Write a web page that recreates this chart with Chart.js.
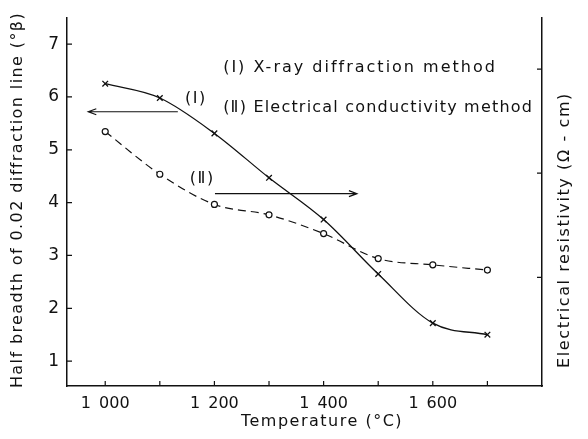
<!DOCTYPE html>
<html>
<head>
<meta charset="utf-8">
<script src="https://cdn.jsdelivr.net/npm/chart.js@4.4.1/dist/chart.umd.min.js"></script>
<style>
  html, body { margin: 0; padding: 0; background: #fff; }
  #wrap { width: 588px; height: 439px; }
</style>
</head>
<body>
<div id="wrap"><canvas id="chart" width="588" height="439"></canvas></div>
<script>
// Temperature (°C) of each measurement
const temperatures = [1000, 1100, 1200, 1300, 1400, 1500, 1600, 1700];
// (I) X-ray diffraction method, half breadth (left axis)
const xrayBreadth = [6.25, 5.98, 5.31, 4.47, 3.68, 2.65, 1.72, 1.50];
// (II) Electrical conductivity method, resistivity (right axis, unlabeled units)
const resistivity = [2.40, 1.99, 1.70, 1.60, 1.42, 1.18, 1.12, 1.07];

const xTickValues = [1000, 1100, 1200, 1300, 1400, 1500, 1600, 1700];
const xTickLabels = ["1\u2002000", "", "1\u2002200", "", "1\u2002400", "", "1\u2002600", ""];
const yTickValues = [1, 2, 3, 4, 5, 6, 7];
const rightTickValues = [1, 2, 3];

const FONT = "'DejaVu Sans', sans-serif";
const INK = "#111";

// text with a bit of tracking, like the typeset original
function spacedText(ctx, text, x, y, size, spacing) {
  ctx.font = size + "px " + FONT;
  ctx.letterSpacing = spacing + "px";
  ctx.fillText(text, x, y);
  ctx.letterSpacing = "0px";
}

// inward tick marks, arrows and the text labels inside the plot
const annotations = {
  id: "annotations",
  afterDraw(chart) {
    const { ctx, chartArea, scales: { x, y, y1 } } = chart;
    ctx.save();
    ctx.strokeStyle = INK;
    ctx.fillStyle = INK;
    ctx.lineWidth = 1.2;

    // ticks pointing into the plot
    ctx.beginPath();
    xTickValues.forEach((v) => {
      const px = x.getPixelForValue(v);
      ctx.moveTo(px, chartArea.bottom);
      ctx.lineTo(px, chartArea.bottom - 5);
    });
    yTickValues.forEach((v) => {
      const py = y.getPixelForValue(v);
      ctx.moveTo(chartArea.left, py);
      ctx.lineTo(chartArea.left + 5, py);
    });
    rightTickValues.forEach((v) => {
      const py = y1.getPixelForValue(v);
      ctx.moveTo(chartArea.right, py);
      ctx.lineTo(chartArea.right - 5, py);
    });
    ctx.stroke();

    // arrows showing which axis each curve belongs to
    drawArrow(ctx, x.getPixelForValue(1133), x.getPixelForValue(969), y.getPixelForValue(5.72));
    drawArrow(ctx, x.getPixelForValue(1201), x.getPixelForValue(1461), y.getPixelForValue(4.17));

    ctx.textBaseline = "middle";
    ctx.textAlign = "left";
    spacedText(ctx, "(Ⅰ)", x.getPixelForValue(1146), y.getPixelForValue(5.96), 16, 1.5);
    spacedText(ctx, "(Ⅱ)", x.getPixelForValue(1155), y.getPixelForValue(4.45), 16, 1.5);

    spacedText(ctx, "(Ⅰ) X-ray diffraction method", x.getPixelForValue(1216), y.getPixelForValue(6.55), 16, 2.0);
    spacedText(ctx, "(Ⅱ) Electrical conductivity method", x.getPixelForValue(1216), y.getPixelForValue(5.79), 16, 1.2);

    // axis titles
    ctx.textAlign = "center";
    spacedText(ctx, "Temperature (°C)", 322, 422, 16, 1.5);

    ctx.save();
    ctx.translate(18, 200);
    ctx.rotate(-Math.PI / 2);
    spacedText(ctx, "Half breadth of 0.02 diffraction line (°β)", 0, 0, 16, 1.4);
    ctx.restore();

    ctx.translate(chartArea.right + 23, 230);
    ctx.rotate(-Math.PI / 2);
    spacedText(ctx, "Electrical resistivity (Ω - cm)", 0, 0, 16, 1.6);
    ctx.restore();
  },
};

function drawArrow(ctx, fromX, toX, atY) {
  const dir = toX > fromX ? 1 : -1;
  ctx.beginPath();
  ctx.moveTo(fromX, atY);
  ctx.lineTo(toX, atY);
  ctx.moveTo(toX - dir * 8, atY - 3);
  ctx.lineTo(toX, atY);
  ctx.lineTo(toX - dir * 8, atY + 3);
  ctx.stroke();
}

new Chart(document.getElementById("chart"), {
  type: "line",
  data: {
    labels: temperatures,
    datasets: [
      {
        label: "(I) X-ray diffraction method",
        data: temperatures.map((t, i) => ({ x: t, y: xrayBreadth[i] })),
        yAxisID: "y",
        borderColor: INK,
        borderWidth: 1.3,
        pointStyle: "crossRot",
        pointRadius: 4,
        pointBorderWidth: 1.3,
        pointBorderColor: INK,
        cubicInterpolationMode: "monotone",
        fill: false,
      },
      {
        label: "(II) Electrical conductivity method",
        data: temperatures.map((t, i) => ({ x: t, y: resistivity[i] })),
        yAxisID: "y1",
        borderColor: INK,
        borderWidth: 1.2,
        borderDash: [8, 5],
        pointStyle: "circle",
        pointRadius: 3,
        pointBorderWidth: 1.2,
        pointBorderColor: INK,
        pointBackgroundColor: "#fff",
        cubicInterpolationMode: "monotone",
        fill: false,
      },
    ],
  },
  options: {
    responsive: false,
    animation: false,
    layout: { padding: { top: 17, left: 0, right: 0, bottom: 0 } },
    plugins: {
      legend: { display: false },
      tooltip: { enabled: false },
    },
    scales: {
      x: {
        type: "linear",
        min: 930,
        max: 1800,
        afterBuildTicks: (scale) => {
          scale.ticks = xTickValues.map((v) => ({ value: v }));
        },
        afterFit: (scale) => { scale.height = 53; },
        grid: { display: false, drawTicks: false },
        border: { display: true, color: INK, width: 1.5 },
        ticks: {
          padding: 8,
          color: INK,
          maxRotation: 0,
          autoSkip: false,
          font: { family: FONT, size: 16 },
          callback: (value) => xTickLabels[xTickValues.indexOf(value)] ?? "",
        },
      },
      y: {
        type: "linear",
        position: "left",
        min: 0.53,
        max: 7.49,
        afterBuildTicks: (scale) => {
          scale.ticks = yTickValues.map((v) => ({ value: v }));
        },
        afterFit: (scale) => { scale.width = 67; },
        grid: { display: false, drawTicks: false },
        border: { display: true, color: INK, width: 1.5 },
        ticks: {
          padding: 8,
          color: INK,
          font: { family: FONT, size: 17 },
        },
      },
      y1: {
        type: "linear",
        position: "right",
        min: -0.043,
        max: 3.488,
        afterBuildTicks: (scale) => {
          scale.ticks = rightTickValues.map((v) => ({ value: v }));
        },
        afterFit: (scale) => { scale.width = 46; },
        grid: { display: false, drawTicks: false },
        border: { display: true, color: INK, width: 1.5 },
        ticks: { display: false },
      },
    },
  },
  plugins: [annotations],
});
</script>
</body>
</html>
